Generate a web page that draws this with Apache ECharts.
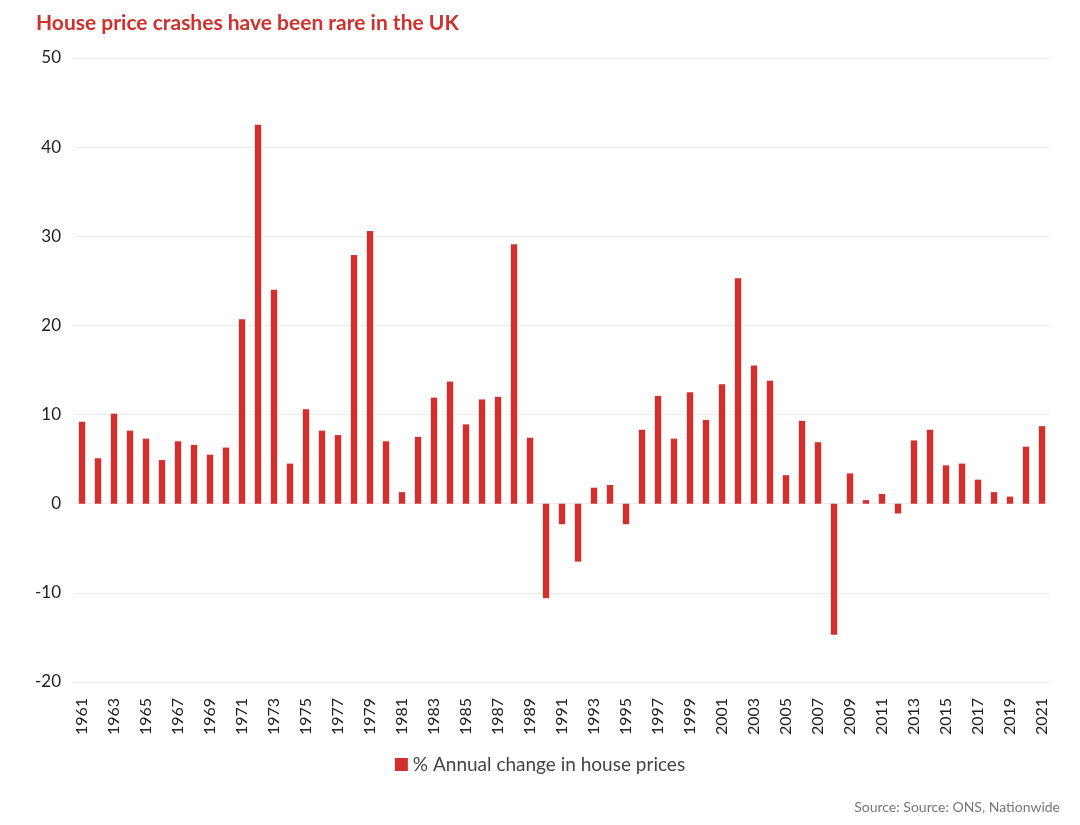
<!DOCTYPE html>
<html>
<head>
<meta charset="utf-8">
<script src="https://cdn.jsdelivr.net/npm/echarts@6/dist/echarts.min.js"></script>
<style>html,body{margin:0;padding:0;background:#fff}#c{width:1080px;height:825px}</style>
</head>
<body>
<div id="c"></div>
<script>
const years = [];
for (let y = 1961; y <= 2021; y++) years.push(String(y));
const annualChange = [
  9.2, 5.1, 10.1, 8.2, 7.3, 4.9, 7.0, 6.6, 5.5, 6.3,
  20.7, 42.5, 24.0, 4.5, 10.6, 8.2, 7.7, 27.9, 30.6, 7.0,
  1.3, 7.5, 11.9, 13.7, 8.9, 11.7, 12.0, 29.1, 7.4, -10.6,
  -2.3, -6.5, 1.8, 2.1, -2.3, 8.3, 12.1, 7.3, 12.5, 9.4,
  13.4, 25.3, 15.5, 13.8, 3.2, 9.3, 6.9, -14.7, 3.4, 0.4,
  1.1, -1.1, 7.1, 8.3, 4.3, 4.5, 2.7, 1.3, 0.8, 6.4,
  8.7
];
const seriesName = '% Annual change in house prices';
const titleText = 'House price crashes have been rare in the UK';
const sourceText = 'Source: Source: ONS, Nationwide';

const chart = echarts.init(document.getElementById('c'), null, {renderer: 'canvas'});
chart.setOption({
  backgroundColor: '#ffffff',
  animation: false,
  textStyle: {fontFamily: 'Lato'},
  title: [{
    text: titleText, left: 31, top: 8,
    textStyle: {color: '#d0312d', fontSize: 21, fontWeight: 'bold', fontFamily: 'Lato'}
  }, {
    text: sourceText, right: 15, top: 795,
    textStyle: {color: '#777', fontSize: 14, fontWeight: 'normal', fontFamily: 'Lato'}
  }],
  grid: {left: 74, right: 30, top: 58, bottom: 143},
  legend: {
    data: [seriesName], bottom: 46, left: 'center',
    icon: 'rect', itemWidth: 13, itemHeight: 13, itemGap: 5,
    textStyle: {color: '#444', fontSize: 19, fontFamily: 'Lato'}
  },
  xAxis: {
    type: 'category', data: years,
    axisLine: {show: false}, axisTick: {show: false},
    axisLabel: {rotate: 90, interval: 1, margin: 16, color: '#222', fontSize: 16, fontFamily: 'Lato'}
  },
  yAxis: {
    type: 'value', min: -20, max: 50, interval: 10,
    axisLine: {show: false}, axisTick: {show: false},
    axisLabel: {color: '#222', fontSize: 17, margin: 13, fontFamily: 'Lato'},
    splitLine: {lineStyle: {color: '#ebebeb', width: 1}}
  },
  series: [{
    name: seriesName, type: 'bar', data: annualChange,
    barWidth: '40%', itemStyle: {color: '#d0312d'}
  }]
});
</script>
</body>
</html>
